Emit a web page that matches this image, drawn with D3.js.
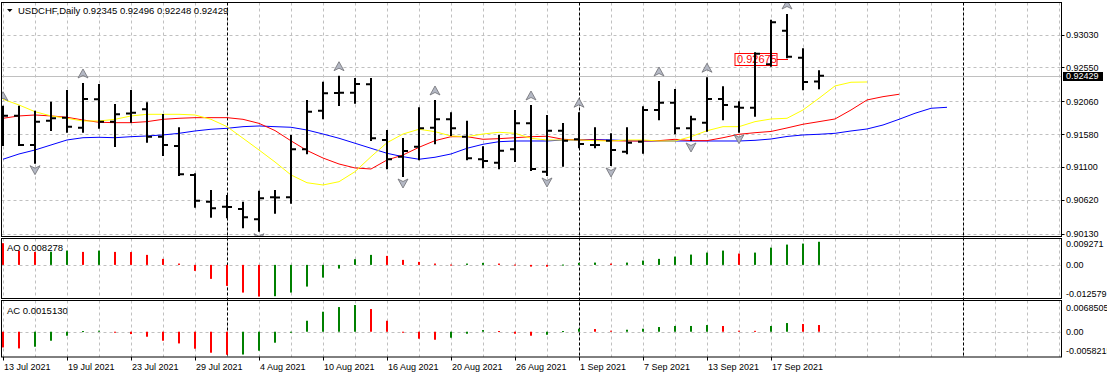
<!DOCTYPE html>
<html>
<head>
<meta charset="utf-8">
<script src="https://cdn.jsdelivr.net/npm/d3@7"></script>
<style>
  body { margin: 0; background: #fff; }
  svg { display: block; font-family: "Liberation Sans", Arial, sans-serif; }
</style>
</head>
<body>
<div id="chart"></div>
<script>
// USDCHF daily bars, 13 Jul 2021 .. 22 Sep 2021
const opens = [0.91650, 0.91847, 0.91420, 0.91774, 0.91818, 0.91672, 0.92086, 0.91759, 0.91880, 0.91940,
  0.91541, 0.91406, 0.90983, 0.90594, 0.90521, 0.90487, 0.90337, 0.90658, 0.90658, 0.91357,
  0.91920, 0.92177, 0.92182, 0.92304, 0.91493, 0.91250, 0.91395, 0.91672, 0.91794, 0.91541,
  0.91212, 0.91162, 0.91357, 0.91736, 0.91031, 0.91628, 0.91503, 0.91420, 0.91483, 0.91322,
  0.91468, 0.91930, 0.92036, 0.91663, 0.91745, 0.92090, 0.91978, 0.91963, 0.92596, 0.93085,
  0.92692, 0.92345];
const highs = [0.91978, 0.91978, 0.91905, 0.92036, 0.92207, 0.92309, 0.92294, 0.92003, 0.92207, 0.92028,
  0.91857, 0.91663, 0.90993, 0.90750, 0.90677, 0.90579, 0.90740, 0.90750, 0.91551, 0.92061,
  0.92328, 0.92415, 0.92382, 0.92382, 0.91624, 0.91507, 0.91955, 0.92061, 0.91882, 0.91759,
  0.91387, 0.91555, 0.91915, 0.91988, 0.91843, 0.91726, 0.91882, 0.91663, 0.91576, 0.91663,
  0.91969, 0.92338, 0.92221, 0.91832, 0.92392, 0.92261, 0.92042, 0.92756, 0.93231, 0.93314,
  0.92814, 0.92496];
const lows = [0.91420, 0.91420, 0.91162, 0.91639, 0.91614, 0.91614, 0.91672, 0.91406, 0.91759, 0.91468,
  0.91274, 0.90983, 0.90521, 0.90375, 0.90367, 0.90221, 0.90171, 0.90434, 0.90579, 0.91299,
  0.91809, 0.92003, 0.92036, 0.91493, 0.91081, 0.90968, 0.91212, 0.91445, 0.91566, 0.91212,
  0.91095, 0.91081, 0.91187, 0.91056, 0.90983, 0.91118, 0.91387, 0.91387, 0.91129, 0.91299,
  0.91308, 0.91794, 0.91590, 0.91493, 0.91628, 0.91794, 0.91614, 0.91847, 0.92575, 0.92698,
  0.92232, 0.92248];
const closes = [0.91847, 0.91420, 0.91759, 0.91809, 0.91687, 0.92090, 0.91759, 0.91867, 0.91891, 0.91541,
  0.91420, 0.90993, 0.90608, 0.90498, 0.90515, 0.90367, 0.90643, 0.90655, 0.91357, 0.91905,
  0.92173, 0.92182, 0.92309, 0.91518, 0.91212, 0.91333, 0.91663, 0.91794, 0.91663, 0.91226,
  0.91187, 0.91337, 0.91736, 0.91070, 0.91628, 0.91483, 0.91435, 0.91418, 0.91347, 0.91454,
  0.91930, 0.92036, 0.91663, 0.91794, 0.92090, 0.92003, 0.91963, 0.92750, 0.93208, 0.92707,
  0.92338, 0.92429];

// alligator lines (they run past the last bar)
const lips = [0.92086, 0.92003, 0.91905, 0.91843, 0.91809, 0.91770, 0.91770, 0.91794, 0.91843, 0.91867,
  0.91867, 0.91867, 0.91857, 0.91794, 0.91687, 0.91518, 0.91347, 0.91172, 0.90983, 0.90870,
  0.90837, 0.90885, 0.91031, 0.91249, 0.91453, 0.91580, 0.91649, 0.91614, 0.91551, 0.91541,
  0.91580, 0.91605, 0.91590, 0.91518, 0.91493, 0.91493, 0.91493, 0.91483, 0.91478, 0.91493,
  0.91493, 0.91478, 0.91478, 0.91541, 0.91628, 0.91687, 0.91687, 0.91760, 0.91799, 0.91809,
  0.91930, 0.92101, 0.92280, 0.92334, 0.92338];
const teeth = [0.91809, 0.91843, 0.91857, 0.91843, 0.91824, 0.91784, 0.91751, 0.91745, 0.91745, 0.91760,
  0.91794, 0.91809, 0.91818, 0.91818, 0.91818, 0.91794, 0.91735, 0.91630, 0.91480, 0.91340,
  0.91230, 0.91143, 0.91085, 0.91070, 0.91201, 0.91274, 0.91386, 0.91483, 0.91541, 0.91541,
  0.91503, 0.91512, 0.91526, 0.91541, 0.91547, 0.91503, 0.91493, 0.91493, 0.91483, 0.91478,
  0.91478, 0.91483, 0.91503, 0.91483, 0.91483, 0.91526, 0.91576, 0.91599, 0.91617, 0.91668,
  0.91722, 0.91760, 0.91799, 0.91930, 0.92076, 0.92124, 0.92159];
const jaw = [0.91212, 0.91289, 0.91347, 0.91420, 0.91493, 0.91526, 0.91532, 0.91526, 0.91541, 0.91551,
  0.91566, 0.91590, 0.91624, 0.91649, 0.91663, 0.91687, 0.91697, 0.91687, 0.91678, 0.91638,
  0.91580, 0.91518, 0.91445, 0.91372, 0.91299, 0.91249, 0.91212, 0.91241, 0.91289, 0.91372,
  0.91430, 0.91468, 0.91478, 0.91478, 0.91478, 0.91493, 0.91493, 0.91500, 0.91493, 0.91483,
  0.91478, 0.91478, 0.91478, 0.91478, 0.91478, 0.91478, 0.91478, 0.91488, 0.91507, 0.91544,
  0.91566, 0.91576, 0.91590, 0.91624, 0.91653, 0.91711, 0.91794, 0.91882, 0.91955, 0.91969];

// fractals (bar index)
const upFractals = [0, 5, 21, 27, 33, 36, 41, 44, 49];
const downFractals = [2, 16, 25, 34, 38, 43, 46];

// Awesome oscillator / Accelerator
const aoValues = [0.00777, 0.00512, 0.00465, 0.00470, 0.00512, 0.00465, 0.00512, 0.00465, 0.00460, 0.00358,
  0.00215, 0.00047, -0.00215, -0.00501, -0.00752, -0.00992, -0.01135, -0.01121, -0.00992, -0.00777,
  -0.00455, -0.00132, 0.00204, 0.00358, 0.00322, 0.00179, 0.00107, 0.00047, 0.00011, 0.00047,
  0.00072, 0.00047, 0.00011, -0.00061, -0.00065, 0.00011, 0.00072, 0.00082, 0.00047, 0.00082,
  0.00154, 0.00215, 0.00297, 0.00369, 0.00440, 0.00512, 0.00405, 0.00440, 0.00619, 0.00727,
  0.00763, 0.008278];
const acValues = [-0.00355, -0.00377, -0.00339, -0.00203, -0.00090, 0.00015, 0.00023, -0.00020, -0.00053, -0.00113,
  -0.00203, -0.00264, -0.00384, -0.00474, -0.00520, -0.00515, -0.00429, -0.00248, -0.00023, 0.00248,
  0.00452, 0.00557, 0.00603, 0.00512, 0.00248, -0.00008, -0.00158, -0.00181, -0.00136, -0.00045,
  0.00038, 0.00015, -0.00045, -0.00090, -0.00068, 0.00015, 0.00068, 0.00060, 0.00023, 0.00045,
  0.00068, 0.00106, 0.00129, 0.00130, 0.00151, 0.00129, 0.00023, 0.00020, 0.00129, 0.00196,
  0.00174, 0.001513];

const priceTicks = [0.93030, 0.92550, 0.92060, 0.91580, 0.91100, 0.90620, 0.90130];
const aoScaleMax = 0.009271, aoScaleMin = -0.012579;
const acScaleMax = 0.0068505, acScaleMin = -0.0058215;
const dateTickIdx = [0, 4, 8, 12, 16, 20, 24, 28, 32, 36, 40, 44, 48];
const dateLabels = ["13 Jul 2021", "19 Jul 2021", "23 Jul 2021", "29 Jul 2021", "4 Aug 2021", "10 Aug 2021",
  "16 Aug 2021", "20 Aug 2021", "26 Aug 2021", "1 Sep 2021", "7 Sep 2021", "13 Sep 2021", "17 Sep 2021"];
const monthSeparators = [14, 36, 60];
const labelPrice = 0.92675;

function drawChart() {
  let dimensions = {
    width: 1107,
    height: 378,
    left: 1.5,
    right: 1061.5,
    main: { top: 2.5, bottom: 236.5 },
    ao: { top: 238.5, bottom: 298.5 },
    ac: { top: 300.5, bottom: 357 },
  };

  const svg = d3
    .select("#chart")
    .append("svg")
    .attr("width", dimensions.width)
    .attr("height", dimensions.height);

  // clip for the price panel
  svg
    .append("defs")
    .append("clipPath")
    .attr("id", "mainClip")
    .append("rect")
    .attr("x", dimensions.left)
    .attr("y", dimensions.main.top)
    .attr("width", dimensions.right - dimensions.left)
    .attr("height", dimensions.main.bottom - dimensions.main.top);

  const x = d3.scaleLinear().domain([0, 1]).range([3, 19]);
  const y = d3.scaleLinear().domain([0.9013, 0.9303]).range([233.5, 34.5]);
  const yAO = d3.scaleLinear().domain([aoScaleMin, aoScaleMax]).range([300, 239]);
  const yAC = d3.scaleLinear().domain([acScaleMin, acScaleMax]).range([357.5, 301.4]);

  const gridIdx = d3.range(0, 67, 2);
  const gridColor = "#c0c0c0";

  // vertical grid in all three panels
  [dimensions.main, dimensions.ao, dimensions.ac].forEach(function (p) {
    svg
      .append("g")
      .selectAll("line")
      .data(gridIdx)
      .enter()
      .append("line")
      .attr("x1", (d) => Math.round(x(d)) + 0.5)
      .attr("x2", (d) => Math.round(x(d)) + 0.5)
      .attr("y1", p.top)
      .attr("y2", p.bottom)
      .attr("stroke", gridColor)
      .attr("stroke-dasharray", "3,3");
  });

  // horizontal grid (price)
  svg
    .append("g")
    .selectAll("line")
    .data(priceTicks)
    .enter()
    .append("line")
    .attr("x1", dimensions.left)
    .attr("x2", dimensions.right)
    .attr("y1", (d) => Math.round(y(d)) + 0.5)
    .attr("y2", (d) => Math.round(y(d)) + 0.5)
    .attr("stroke", gridColor)
    .attr("stroke-dasharray", "3,3");

  // zero lines of the oscillators
  [yAO(0), yAC(0)].forEach(function (zy) {
    svg
      .append("line")
      .attr("x1", dimensions.left)
      .attr("x2", dimensions.right)
      .attr("y1", Math.round(zy) + 0.5)
      .attr("y2", Math.round(zy) + 0.5)
      .attr("stroke", gridColor)
      .attr("stroke-dasharray", "3,3");
  });

  // month separators
  svg
    .append("g")
    .selectAll("line")
    .data(monthSeparators)
    .enter()
    .append("line")
    .attr("x1", (d) => Math.round(x(d)) + 0.5)
    .attr("x2", (d) => Math.round(x(d)) + 0.5)
    .attr("y1", dimensions.main.top)
    .attr("y2", dimensions.ac.bottom)
    .attr("stroke", "#000")
    .attr("stroke-dasharray", "3,2");

  // current price line
  const lastClose = closes[closes.length - 1];
  svg
    .append("line")
    .attr("x1", dimensions.left)
    .attr("x2", dimensions.right)
    .attr("y1", Math.round(y(lastClose)) + 0.5)
    .attr("y2", Math.round(y(lastClose)) + 0.5)
    .attr("stroke", "#c0c0c0");

  const mainG = svg.append("g").attr("clip-path", "url(#mainClip)");

  // alligator
  const line = d3
    .line()
    .x((d, i) => x(i))
    .y((d) => y(d));
  [
    [jaw, "#0000ff"],
    [teeth, "#ff0000"],
    [lips, "#ffff00"],
  ].forEach(function (s) {
    mainG
      .append("path")
      .datum(s[0])
      .attr("d", line)
      .attr("fill", "none")
      .attr("stroke", s[1])
      .attr("stroke-width", 1);
  });

  // price label object
  const lblRight = x(48) + 6;
  mainG
    .append("rect")
    .attr("x", lblRight - 42)
    .attr("y", Math.round(y(labelPrice)) - 5.5)
    .attr("width", 42)
    .attr("height", 12)
    .attr("fill", "none")
    .attr("stroke", "#ff0000");
  mainG
    .append("line")
    .attr("x1", lblRight)
    .attr("x2", x(49) + 1)
    .attr("y1", Math.round(y(labelPrice)) + 0.5)
    .attr("y2", Math.round(y(labelPrice)) + 0.5)
    .attr("stroke", "#ff0000");
  mainG
    .append("text")
    .attr("x", lblRight - 40)
    .attr("y", y(labelPrice) + 4)
    .attr("fill", "#ff0000")
    .style("font-size", "11px")
    .text(labelPrice.toFixed(5));

  // OHLC bars
  const bars = mainG
    .append("g")
    .selectAll("g")
    .data(d3.range(closes.length))
    .enter()
    .append("g")
    .attr("stroke", "#000")
    .attr("stroke-width", 2);
  bars
    .append("line")
    .attr("x1", (i) => x(i))
    .attr("x2", (i) => x(i))
    .attr("y1", (i) => y(highs[i]) - 1)
    .attr("y2", (i) => y(lows[i]) + 1);
  bars
    .append("line")
    .attr("x1", (i) => x(i) - 5)
    .attr("x2", (i) => x(i))
    .attr("y1", (i) => y(opens[i]))
    .attr("y2", (i) => y(opens[i]));
  bars
    .append("line")
    .attr("x1", (i) => x(i))
    .attr("x2", (i) => x(i) + 5)
    .attr("y1", (i) => y(closes[i]))
    .attr("y2", (i) => y(closes[i]));

  // fractal arrows
  const arrowUp = "M0,-5L5,4L0,1.5L-5,4Z";
  const arrowDown = "M0,5L5,-4L0,-1.5L-5,-4Z";
  mainG
    .append("g")
    .selectAll("path")
    .data(upFractals)
    .enter()
    .append("path")
    .attr("d", arrowUp)
    .attr("transform", (i) => `translate(${x(i)},${y(highs[i]) - 10})`)
    .attr("fill", "#b4b8c4")
    .attr("stroke", "#6e6e74")
    .attr("stroke-width", 0.8);
  mainG
    .append("g")
    .selectAll("path")
    .data(downFractals)
    .enter()
    .append("path")
    .attr("d", arrowDown)
    .attr("transform", (i) => `translate(${x(i)},${y(lows[i]) + 7})`)
    .attr("fill", "#b4b8c4")
    .attr("stroke", "#6e6e74")
    .attr("stroke-width", 0.8);

  // AO and AC histograms
  function histColor(v, i, arr) {
    if (i === 0) return "#ff0000";
    return v > arr[i - 1] ? "#008000" : "#ff0000";
  }
  svg
    .append("g")
    .selectAll("rect")
    .data(aoValues)
    .enter()
    .append("rect")
    .attr("x", (d, i) => x(i) - 1)
    .attr("y", (d) => Math.min(yAO(d), yAO(0)))
    .attr("width", 2)
    .attr("height", (d) => Math.max(1, Math.abs(yAO(d) - yAO(0))))
    .attr("fill", (d, i) => histColor(d, i, aoValues));
  svg
    .append("g")
    .selectAll("rect")
    .data(acValues)
    .enter()
    .append("rect")
    .attr("x", (d, i) => x(i) - 1)
    .attr("y", (d) => Math.min(yAC(d), yAC(0)))
    .attr("width", 2)
    .attr("height", (d) => Math.max(1, Math.abs(yAC(d) - yAC(0))))
    .attr("fill", (d, i) => histColor(d, i, acValues));

  // panel frames
  [dimensions.main, dimensions.ao, dimensions.ac].forEach(function (p) {
    svg
      .append("rect")
      .attr("x", dimensions.left)
      .attr("y", p.top)
      .attr("width", dimensions.right - dimensions.left)
      .attr("height", p.bottom - p.top)
      .attr("fill", "none")
      .attr("stroke", "#000");
  });

  // price axis
  const axisG = svg.append("g").style("font-size", "9px");
  axisG
    .selectAll("line")
    .data(priceTicks)
    .enter()
    .append("line")
    .attr("x1", dimensions.right)
    .attr("x2", dimensions.right + 3)
    .attr("y1", (d) => Math.round(y(d)) + 0.5)
    .attr("y2", (d) => Math.round(y(d)) + 0.5)
    .attr("stroke", "#000");
  axisG
    .selectAll("text")
    .data(priceTicks)
    .enter()
    .append("text")
    .attr("x", 1066)
    .attr("y", (d) => y(d) + 3.5)
    .text((d) => d.toFixed(5));

  // current price box
  svg
    .append("rect")
    .attr("x", 1063)
    .attr("y", Math.round(y(lastClose)) - 4)
    .attr("width", 40)
    .attr("height", 9)
    .attr("fill", "#000");
  svg
    .append("text")
    .attr("x", 1066)
    .attr("y", y(lastClose) + 3.5)
    .attr("fill", "#fff")
    .style("font-size", "9px")
    .text(lastClose.toFixed(5));

  // oscillator axis labels (the long ones run off the right edge, as in MT4)
  const oscLabels = [
    [aoScaleMax.toString(), dimensions.ao.top + 5],
    ["0.00", yAO(0)],
    [aoScaleMin.toString(), dimensions.ao.bottom - 5.5],
    [acScaleMax.toString(), dimensions.ac.top + 6.5],
    ["0.00", yAC(0)],
    [acScaleMin.toString(), dimensions.ac.bottom - 6.3],
  ];
  svg
    .append("g")
    .style("font-size", "9px")
    .selectAll("text")
    .data(oscLabels)
    .enter()
    .append("text")
    .attr("x", 1066)
    .attr("y", (d) => d[1] + 3.5)
    .text((d) => d[0]);

  // date axis
  const dateG = svg.append("g").style("font-size", "9px");
  dateG
    .selectAll("line")
    .data(dateTickIdx)
    .enter()
    .append("line")
    .attr("x1", (d) => Math.round(x(d)) + 0.5)
    .attr("x2", (d) => Math.round(x(d)) + 0.5)
    .attr("y1", dimensions.ac.bottom)
    .attr("y2", dimensions.ac.bottom + 3.5)
    .attr("stroke", "#000");
  dateG
    .selectAll("text")
    .data(dateTickIdx)
    .enter()
    .append("text")
    .attr("x", (d) => x(d) + 1)
    .attr("y", 370)
    .text((d, i) => dateLabels[i]);

  // header and indicator names
  svg
    .append("path")
    .attr("d", "M7,9L12.5,9L9.75,12Z")
    .attr("fill", "#000");
  svg
    .append("text")
    .attr("x", 18)
    .attr("y", 14)
    .style("font-size", "9.5px")
    .text(
      "USDCHF,Daily " +
        [opens, highs, lows, closes].map((a) => a[a.length - 1].toFixed(5)).join(" ")
    );
  svg
    .append("text")
    .attr("x", 7)
    .attr("y", 250.5)
    .style("font-size", "9.5px")
    .text("AO " + aoValues[aoValues.length - 1].toFixed(6));
  svg
    .append("text")
    .attr("x", 7)
    .attr("y", 314)
    .style("font-size", "9.5px")
    .text("AC " + acValues[acValues.length - 1].toFixed(7));
}

drawChart();
</script>
</body>
</html>
